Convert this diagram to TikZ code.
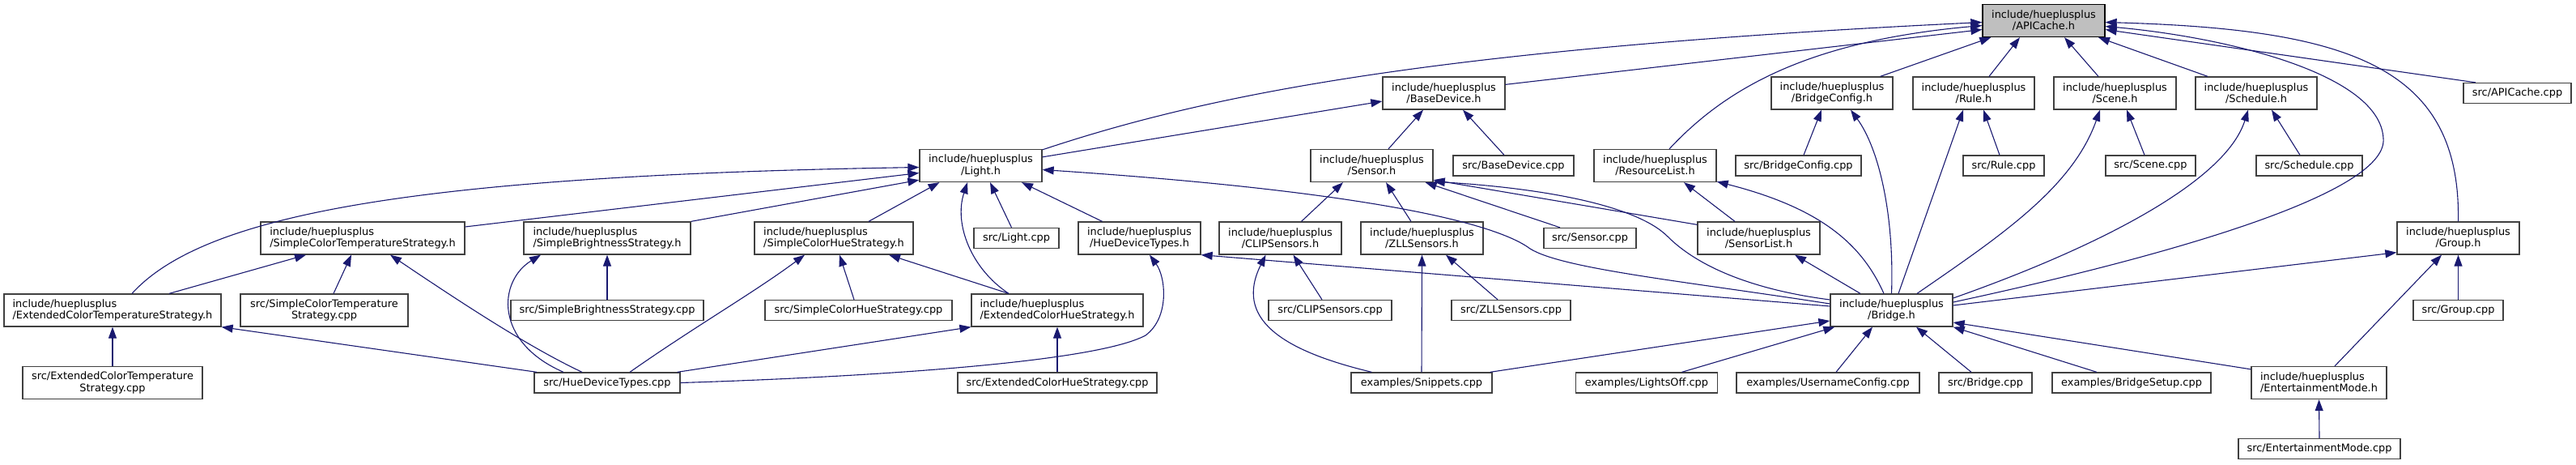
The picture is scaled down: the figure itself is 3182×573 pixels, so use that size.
\documentclass[tikz,border=0pt]{standalone}
\usepackage{fontspec}
\newfontfamily\dfont{DejaVu Sans}
\usetikzlibrary{arrows.meta}
\definecolor{edgeblue}{HTML}{191970}
\definecolor{boxgray}{HTML}{404040}
\definecolor{rootgray}{HTML}{BFBFBF}
\begin{document}
\begin{tikzpicture}[x=1pt,y=-1pt,
  box/.style={draw=boxgray, line width=1.3pt, fill=white, inner sep=0pt,
    font=\dfont\fontsize{12.9}{14.2}\selectfont, align=center},
  two/.style={box, minimum height=40pt},
  one/.style={box, minimum height=25pt},
  root/.style={two, fill=rootgray, draw=black},
  edge/.style={draw=edgeblue, line width=1.1pt, -{Triangle[length=14pt,width=10pt]}}]
\useasboundingbox (0,0) rectangle (3182,573);
% rank 0
\node[root, minimum width=151pt] (apic) at (2524.5,25.5) {include/hueplusplus\\/APICache.h};
% rank 1
\node[two, minimum width=151pt] (based) at (1783.5,115) {include/hueplusplus\\/BaseDevice.h};
\node[two, minimum width=150pt] (brcfg) at (2263,115) {include/hueplusplus\\/BridgeConfig.h};
\node[two, minimum width=150pt] (rule) at (2438,115) {include/hueplusplus\\/Rule.h};
\node[two, minimum width=151pt] (scene) at (2612.5,115) {include/hueplusplus\\/Scene.h};
\node[two, minimum width=150pt] (sched) at (2787,115) {include/hueplusplus\\/Schedule.h};
\node[one, minimum width=133pt] (apicpp) at (3109.5,115) {src/APICache.cpp};
% rank 2
\node[two, minimum width=151pt] (light) at (1211.5,204.5) {include/hueplusplus\\/Light.h};
\node[two, minimum width=151pt] (sensor) at (1694.5,204.5) {include/hueplusplus\\/Sensor.h};
\node[one, minimum width=149pt] (basedcpp) at (1869.5,204.5) {src/BaseDevice.cpp};
\node[two, minimum width=151pt] (reslist) at (2044.5,204.5) {include/hueplusplus\\/ResourceList.h};
\node[one, minimum width=155pt] (brcfgcpp) at (2221.5,204.5) {src/BridgeConfig.cpp};
\node[one, minimum width=100pt] (rulecpp) at (2475,204.5) {src/Rule.cpp};
\node[one, minimum width=111pt] (scenecpp) at (2656.5,204.5) {src/Scene.cpp};
\node[one, minimum width=131pt] (schedcpp) at (2852.5,204.5) {src/Schedule.cpp};
% rank 3
\node[two, align=left, minimum width=252pt] (scts) at (448,294) {include/hueplusplus\\/SimpleColorTemperatureStrategy.h};
\node[two, align=left, minimum width=206pt] (sbs) at (750,294) {include/hueplusplus\\/SimpleBrightnessStrategy.h};
\node[two, align=left, minimum width=196pt] (schs) at (1030,294) {include/hueplusplus\\/SimpleColorHueStrategy.h};
\node[one, minimum width=105pt] (lightcpp) at (1255.5,294) {src/Light.cpp};
\node[two, minimum width=151pt] (hdt) at (1407.5,294) {include/hueplusplus\\/HueDeviceTypes.h};
\node[two, minimum width=151pt] (clip) at (1581.5,294) {include/hueplusplus\\/CLIPSensors.h};
\node[two, minimum width=151pt] (zll) at (1756.5,294) {include/hueplusplus\\/ZLLSensors.h};
\node[one, minimum width=114pt] (sensorcpp) at (1964,294) {src/Sensor.cpp};
\node[two, minimum width=151pt] (senslist) at (2172.5,294) {include/hueplusplus\\/SensorList.h};
\node[two, minimum width=151pt] (group) at (3036.5,294) {include/hueplusplus\\/Group.h};
% rank 4
\node[two, align=left, minimum width=268pt] (ects) at (139,383) {include/hueplusplus\\/ExtendedColorTemperatureStrategy.h};
\node[two, minimum width=207pt] (sctscpp) at (400.5,383) {src/SimpleColorTemperature\\Strategy.cpp};
\node[one, minimum width=238pt] (sbscpp) at (750,383) {src/SimpleBrightnessStrategy.cpp};
\node[one, minimum width=231pt] (schscpp) at (1060.5,383) {src/SimpleColorHueStrategy.cpp};
\node[two, align=left, minimum width=212pt] (echs) at (1306,383) {include/hueplusplus\\/ExtendedColorHueStrategy.h};
\node[one, minimum width=152pt] (clipcpp) at (1643,383) {src/CLIPSensors.cpp};
\node[one, minimum width=147pt] (zllcpp) at (1866.5,383) {src/ZLLSensors.cpp};
\node[two, minimum width=151pt] (bridge) at (2336.5,383) {include/hueplusplus\\/Bridge.h};
\node[one, minimum width=111pt] (groupcpp) at (3036.5,383) {src/Group.cpp};
% rank 5
\node[two, minimum width=222pt] (ectscpp) at (139,472.5) {src/ExtendedColorTemperature\\Strategy.cpp};
\node[one, minimum width=180pt] (hdtcpp) at (750,472.5) {src/HueDeviceTypes.cpp};
\node[one, minimum width=246pt] (echscpp) at (1306,472.5) {src/ExtendedColorHueStrategy.cpp};
\node[one, minimum width=174pt] (snippets) at (1756,472.5) {examples/Snippets.cpp};
\node[one, minimum width=175pt] (lightsoff) at (2034,472.5) {examples/LightsOff.cpp};
\node[one, minimum width=226pt] (username) at (2258,472.5) {examples/UsernameConfig.cpp};
\node[one, minimum width=115pt] (bridgecpp) at (2452.5,472.5) {src/Bridge.cpp};
\node[one, minimum width=196pt] (bsetup) at (2633,472.5) {examples/BridgeSetup.cpp};
\node[two, align=left, minimum width=167pt] (em) at (2864.5,472.5) {include/hueplusplus\\/EntertainmentMode.h};
% rank 6
\node[one, minimum width=200pt] (emcpp) at (2865,554) {src/EntertainmentMode.cpp};

% ---- edges (child -> parent) ----
% to APICache.h
\draw[edge] ([yshift=-1pt]light.north east) .. controls (1480,121) and (1750,61) .. ([yshift=-2pt]apic.west);
\draw[edge] ([yshift=-10pt]based.north east) -- ([yshift=-11pt]apic.west);
\draw[edge] ([xshift=17.5pt]reslist.north) .. controls (2130,111) and (2230,51) .. ([yshift=-6pt]apic.west);
\draw[edge] ([xshift=-16pt]brcfg.north east) -- ([xshift=11pt]apic.south west);
\draw[edge] ([xshift=19pt]rule.north) -- ([xshift=-29.5pt]apic.south);
\draw[edge] ([xshift=-20.5pt]scene.north) -- ([xshift=25.5pt]apic.south);
\draw[edge] ([xshift=-60pt]sched.north) -- ([xshift=67.5pt]apic.south);
\draw[edge] ([xshift=-51.5pt]apicpp.north) -- ([yshift=-11pt]apic.east);
\draw[edge] ([yshift=10pt]bridge.east) .. controls (2650,322) and (2950,242) .. (2944,171) .. controls (2940,91) and (2750,46) .. ([yshift=-7pt]apic.east);
\draw[edge] (group.north) .. controls (3040,81) and (2900,36) .. ([yshift=-2pt]apic.east);
% to BaseDevice.h
\draw[edge] ([yshift=-10pt]light.north east) -- ([yshift=-10pt]based.west);
\draw[edge] ([xshift=20.5pt]sensor.north) -- ([xshift=-25.5pt]based.south);
\draw[edge] ([xshift=-11.5pt]basedcpp.north) -- ([xshift=23.5pt]based.south);
% to Light.h
\draw[edge] ([xshift=24pt]ects.north) .. controls (250,267) and (500,217) .. ([yshift=-2pt]light.west);
\draw[edge] ([yshift=14pt]scts.east) -- ([yshift=-9pt]light.west);
\draw[edge] (sbs.north east) -- ([yshift=3pt]light.south west);
\draw[edge] ([xshift=43pt]schs.north) -- ([xshift=-51pt]light.south);
\draw[edge] ([xshift=-60pt]echs.north) .. controls (1200,332) and (1178,277) .. ([xshift=-16.5pt]light.south);
\draw[edge] ([xshift=-6pt]lightcpp.north) -- ([xshift=11.5pt]light.south);
\draw[edge] ([xshift=-46pt]hdt.north) -- ([xshift=50.5pt]light.south);
\draw[edge] ([yshift=8pt]bridge.west) .. controls (2080,347) and (1930,332) .. (1890,307) .. controls (1850,277) and (1700,237) .. ([yshift=-5pt]light.east);
% strategies
\draw[edge] ([xshift=70pt]ects.north) -- ([xshift=-70pt]scts.south);
\draw[edge] ([xshift=11.5pt]sctscpp.north) -- ([xshift=-14pt]scts.south);
\draw[edge] ([xshift=-31pt]hdtcpp.north) .. controls (650,427) and (560,367) .. ([xshift=34pt]scts.south);
\draw[edge] ([xshift=-54pt]hdtcpp.north) .. controls (610,422) and (615,347) .. ([xshift=-82pt]sbs.south);
\draw[edge] ([xshift=-87pt]hdtcpp.north) -- (ects.south east);
\draw[edge] (ectscpp.north) -- (ects.south);
\draw[edge] (sbscpp.north) -- (sbs.south);
\draw[edge] ([xshift=-60pt]echs.north) -- ([xshift=68pt]schs.south);
\draw[edge] ([xshift=-5.5pt]schscpp.north) -- ([xshift=7pt]schs.south);
\draw[edge] ([xshift=28pt]hdtcpp.north) .. controls (860,402) and (930,362) .. ([xshift=-36pt]schs.south);
\draw[edge] ([xshift=-4pt]hdtcpp.north east) -- (echs.south west);
\draw[edge] (hdtcpp.east) .. controls (1050,466) and (1350,449) .. (1415,414) .. controls (1445,392) and (1440,342) .. ([xshift=12.5pt]hdt.south);
\draw[edge] (echscpp.north) -- (echs.south);
\draw[edge] ([yshift=5pt]bridge.west) -- (hdt.south east);
% sensors
\draw[edge] ([xshift=26pt]snippets.north west) .. controls (1580,432) and (1525,392) .. ([xshift=-18pt]clip.south);
\draw[edge] ([xshift=-10pt]clipcpp.north) -- ([xshift=16pt]clip.south);
\draw[edge] (snippets.north) -- (zll.south);
\draw[edge] ([xshift=-16.5pt]zllcpp.north) -- ([xshift=29.5pt]zll.south);
\draw[edge] ([xshift=-13.5pt]zll.north) -- ([xshift=17.5pt]sensor.south);
\draw[edge] ([xshift=26pt]clip.north) -- ([xshift=-35.5pt]sensor.south);
\draw[edge] ([xshift=-37pt]sensorcpp.north) -- ([xshift=-10pt]sensor.south east);
\draw[edge] ([yshift=-4pt]senslist.north west) -- ([yshift=3pt]sensor.south east);
\draw[edge] ([yshift=13pt]bridge.west) .. controls (2160,357) and (2095,327) .. (2060,292) .. controls (2020,252) and (1900,232) .. ([yshift=1pt]sensor.south east);
\draw[edge] ([xshift=-29.5pt]senslist.north) -- ([xshift=35.5pt]reslist.south);
\draw[edge] ([xshift=-9.5pt]bridge.north) .. controls (2300,302) and (2250,257) .. ([yshift=1pt]reslist.south east);
\draw[edge] ([xshift=-38.5pt]bridge.north) -- ([xshift=44.5pt]senslist.south);
% bridge config, rule, scene, schedule
\draw[edge] ([xshift=6.5pt]brcfgcpp.north) -- ([xshift=-13pt]brcfg.south);
\draw[edge] (bridge.north) .. controls (2340,262) and (2320,182) .. ([xshift=23pt]brcfg.south);
\draw[edge] ([xshift=8.5pt]bridge.north) -- ([xshift=-13pt]rule.south);
\draw[edge] ([xshift=-5pt]rulecpp.north) -- ([xshift=12pt]rule.south);
\draw[edge] ([xshift=31.5pt]bridge.north) .. controls (2470,292) and (2560,232) .. ([xshift=-18.5pt]scene.south);
\draw[edge] ([xshift=-7.5pt]scenecpp.north) -- ([xshift=14.5pt]scene.south);
\draw[edge] ([yshift=15pt]bridge.east) .. controls (2600,302) and (2750,222) .. ([xshift=-10pt]sched.south);
\draw[edge] ([xshift=-11.5pt]schedcpp.north) -- ([xshift=19pt]sched.south);
% group
\draw[edge] ([yshift=6pt]bridge.east) -- ([yshift=3pt]group.south west);
\draw[edge] ([xshift=19.5pt]em.north) -- ([xshift=-20.5pt]group.south);
\draw[edge] (groupcpp.north) -- (group.south);
% to Bridge.h
\draw[edge] ([yshift=-4pt]em.north west) -- ([yshift=-15pt]bridge.east);
\draw[edge] ([xshift=-43pt]bsetup.north) -- (bridge.south east);
\draw[edge] ([xshift=-17.5pt]bridgecpp.north) -- ([xshift=30.5pt]bridge.south);
\draw[edge] ([xshift=10pt]username.north) -- ([xshift=-23.5pt]bridge.south);
\draw[edge] ([xshift=43.5pt]lightsoff.north) -- ([xshift=6pt]bridge.south west);
\draw[edge] ([xshift=-3pt]snippets.north east) -- ([yshift=-13pt]bridge.west);
% entertainment
\draw[edge] (emcpp.north) -- (em.south);
\end{tikzpicture}
\end{document}
